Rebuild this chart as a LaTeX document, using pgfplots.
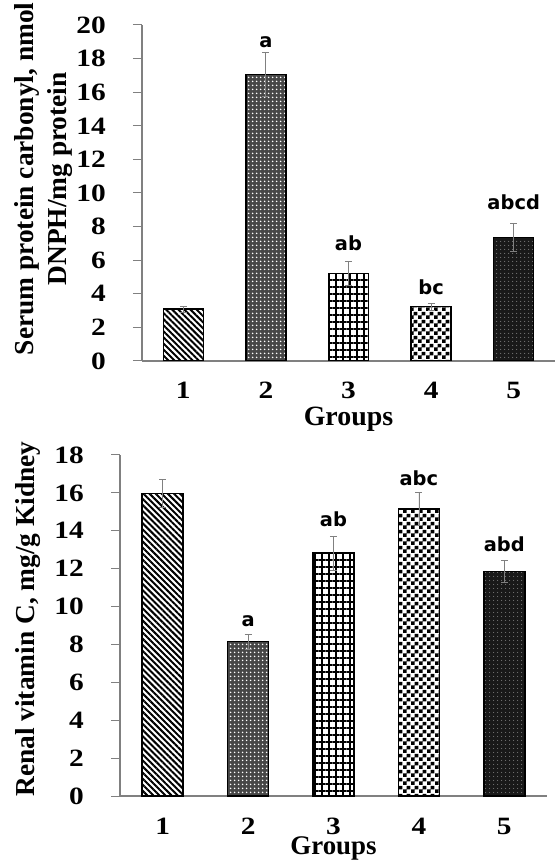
\documentclass[border=0pt]{standalone}
\usepackage{fontspec}
\setmainfont{Liberation Serif}
\newfontfamily\tickfont{Liberation Serif}[FakeStretch=1.18]
\newfontfamily\lettersfont{DejaVu Sans}
\usepackage{pgfplots}
\pgfplotsset{compat=1.18}
\usetikzlibrary{patterns,patterns.meta}

% checkerboard with bigger squares than the stock one
\pgfdeclarepatternformonly{checker}{\pgfpointorigin}{\pgfqpoint{7.6bp}{7.6bp}}{\pgfqpoint{7.6bp}{7.6bp}}{%
  \pgfpathrectangle{\pgfpointorigin}{\pgfqpoint{3.8bp}{3.8bp}}%
  \pgfpathrectangle{\pgfqpoint{3.8bp}{3.8bp}}{\pgfqpoint{3.8bp}{3.8bp}}%
  \pgfusepath{fill}}

\tikzset{sig/.style={anchor=base, inner sep=0pt, font=\lettersfont\bfseries\fontsize{19.5}{19.5}\selectfont}}

\pgfplotsset{
  panel/.style={
    scale only axis,
    axis lines*=left,
    axis line style={gray, line width=1.2bp},
    ybar, bar shift=0pt,
    xmin=0.5, xmax=5.5,
    xtick={1,2,3,4,5},
    x tick style={draw=none},
    y tick style={gray, line width=1bp},
    tick align=outside,
    major tick length=9bp,
    ymin=0,
    ticklabel style={font=\tickfont\bfseries\fontsize{25}{25}\selectfont},
    /pgf/number format/assume math mode=true,
    xticklabel style={anchor=base, inner sep=0pt, yshift=-29bp},
    yticklabel style={anchor=east, inner sep=0pt, xshift=-27bp},
    label style={font=\bfseries\fontsize{27.5}{32.5}\selectfont},
    xlabel={Groups},
    xlabel style={font=\bfseries\fontsize{28}{28}\selectfont, anchor=base, inner sep=0pt},
    error bars/y dir=both, error bars/y explicit,
    error bars/error bar style={gray, line width=0.8bp},
    error bars/error mark options={rotate=90, gray, mark size=3.5bp, line width=0.8bp},
  },
  bar1/.style={draw=black, line width=1.5bp, pattern={Lines[angle=-45,distance=4.3bp,line width=2bp]}, pattern color=black},
  bar2/.style={draw=black, line width=1.5bp, fill=black!72, postaction={pattern={Dots[distance=3.6bp,radius=0.95bp]}, pattern color=white}},
  bar3/.style={draw=black, line width=1.5bp, pattern={Hatch[angle=0,distance=7bp,line width=1.2bp]}, pattern color=black},
  bar4/.style={draw=black, line width=1.5bp, pattern=checker, pattern color=black},
  bar5/.style={draw=black, line width=1.5bp, fill=black!90, postaction={pattern={Dots[distance=3.6bp,radius=0.55bp]}, pattern color=gray!80}},
}

\begin{document}
\begin{tikzpicture}
\useasboundingbox (0,0) rectangle (555bp,861bp);

% top panel: serum protein carbonyl
\begin{axis}[panel,
  at={(142bp,500bp)}, anchor=south west,
  width=413bp, height=336bp,
  ymax=20, ytick={0,2,...,20},
  bar width=40bp,
  xlabel style={at={(axis description cs:0.5,-0.192)}},
  ylabel={Serum protein carbonyl, nmol\\DNPH/mg protein},
  ylabel style={align=center, at={(axis description cs:-0.238,0.542)}, anchor=center},
]
\addplot[bar1] coordinates {(1,3.08) +- (0,0.18)};
\addplot[bar2] coordinates {(2,17.05) +- (0,1.3)};
\addplot[bar3] coordinates {(3,5.22) +- (0,0.72)};
\addplot[bar4] coordinates {(4,3.23) +- (0,0.2)};
\addplot[bar5] coordinates {(5,7.34) +- (0,0.83)};
\node[sig] at (axis cs:2,18.65) {a};
\node[sig] at (axis cs:3,6.6) {ab};
\node[sig] at (axis cs:4,3.93) {bc};
\node[sig] at (axis cs:5,8.99) {abcd};
\end{axis}

% bottom panel: renal vitamin C
\begin{axis}[panel,
  at={(120bp,65bp)}, anchor=south west,
  width=427bp, height=341bp,
  ymax=18, ytick={0,2,...,18},
  bar width=41bp,
  xlabel style={at={(axis description cs:0.5,-0.173)}, font=\bfseries\fontsize{27}{27}\selectfont},
  ylabel={Renal vitamin C, mg/g Kidney},
  ylabel style={at={(axis description cs:-0.215,0.519)}, anchor=center},
]
\addplot[bar1] coordinates {(1,15.97) +- (0,0.76)};
\addplot[bar2] coordinates {(2,8.15) +- (0,0.39)};
\addplot[bar3] coordinates {(3,12.82) +- (0,0.9)};
\addplot[bar4] coordinates {(4,15.14) +- (0,0.88)};
\addplot[bar5] coordinates {(5,11.85) +- (0,0.6)};
\node[sig] at (axis cs:2,8.93) {a};
\node[sig] at (axis cs:3,14.2) {ab};
\node[sig] at (axis cs:4,16.37) {abc};
\node[sig] at (axis cs:5,12.89) {abd};
\end{axis}
\end{tikzpicture}
\end{document}
